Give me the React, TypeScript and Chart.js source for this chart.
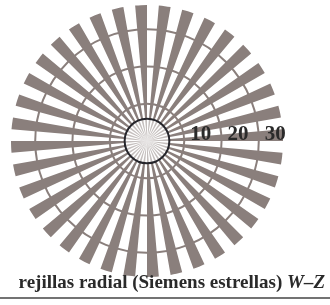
import React, { useEffect, useRef } from "react";
import { Chart, registerables } from "chart.js";

Chart.register(...registerables);

// 36 spokes of the Siemens star (every 10 degrees)
const spokeLabels = [
  "0°", "10°", "20°", "30°", "40°", "50°", "60°", "70°", "80°",
  "90°", "100°", "110°", "120°", "130°", "140°", "150°", "160°", "170°",
  "180°", "190°", "200°", "210°", "220°", "230°", "240°", "250°", "260°",
  "270°", "280°", "290°", "300°", "310°", "320°", "330°", "340°", "350°",
];
const spokeValues = [
  36.5, 36.5, 36.5, 36.5, 36.5, 36.5, 36.5, 36.5, 36.5,
  36.5, 36.5, 36.5, 36.5, 36.5, 36.5, 36.5, 36.5, 36.5,
  36.5, 36.5, 36.5, 36.5, 36.5, 36.5, 36.5, 36.5, 36.5,
  36.5, 36.5, 36.5, 36.5, 36.5, 36.5, 36.5, 36.5, 36.5,
];
const gapValue = 0;
const tickValues = [0, 10, 20, 30];
const tickLabels = ["", "10", "20", "30"];
const scaleMax = 36.5;
const hubValue = 6;
const titleMain = "rejillas radial (Siemens estrellas) ";
const titleItalic = "W–Z";

const SPOKE_COLOR = "#8a7f7c";

export default function App() {
  const ref = useRef<HTMLCanvasElement | null>(null);

  useEffect(() => {
    if (!ref.current) return;
    const labels: string[] = [];
    const data: number[] = [];
    const colors: string[] = [];
    spokeLabels.forEach((l, i) => {
      labels.push(l);
      data.push(spokeValues[i]);
      colors.push(SPOKE_COLOR);
      labels.push(l + " gap");
      data.push(gapValue);
      colors.push("rgba(0,0,0,0)");
    });

    const overlay = {
      id: "overlay",
      afterDatasetsDraw(chart: any) {
        const ctx = chart.ctx;
        const r = chart.scales.r;
        const cx = r.xCenter;
        const cy = r.yCenter;
        // hub circle
        const hr = r.getDistanceFromCenterForValue(hubValue);
        ctx.save();
        ctx.beginPath();
        ctx.arc(cx, cy, hr, 0, Math.PI * 2);
        ctx.fillStyle = "rgba(255,255,255,0.5)";
        ctx.fill();
        ctx.lineWidth = 2;
        ctx.strokeStyle = "#25252b";
        ctx.stroke();
        // tick labels along the right horizontal
        ctx.font = "bold 21px 'Liberation Serif'";
        ctx.fillStyle = "#2a2a2a";
        ctx.textAlign = "left";
        ctx.textBaseline = "middle";
        tickValues.forEach((v, i) => {
          if (!tickLabels[i]) return;
          const d = r.getDistanceFromCenterForValue(v);
          ctx.fillText(tickLabels[i], cx + d + 6, cy - 6);
        });
        ctx.restore();
      },
      afterDraw(chart: any) {
        const ctx = chart.ctx;
        ctx.save();
        const right = 325;
        const base = 288;
        ctx.textBaseline = "alphabetic";
        ctx.fillStyle = "#2a2a2a";
        ctx.font = "italic bold 19px 'Liberation Serif'";
        const wItal = ctx.measureText(titleItalic).width;
        ctx.textAlign = "left";
        ctx.fillText(titleItalic, right - wItal, base);
        ctx.font = "bold 19px 'Liberation Serif'";
        ctx.textAlign = "right";
        ctx.fillText(titleMain, right - wItal, base);
        ctx.beginPath();
        ctx.moveTo(0, 298);
        ctx.lineTo(330, 298);
        ctx.lineWidth = 1.5;
        ctx.strokeStyle = "#444";
        ctx.stroke();
        ctx.restore();
      },
    };

    const chart = new Chart(ref.current, {
      type: "polarArea",
      data: {
        labels,
        datasets: [
          {
            data,
            backgroundColor: colors,
            borderWidth: 0,
          },
        ],
      },
      options: {
        responsive: false,
        animation: false,
        layout: { padding: { left: 11, right: 47, top: 5, bottom: 27 } },
        plugins: {
          legend: { display: false },
          tooltip: { enabled: false },
          title: { display: false },
        },
        scales: {
          r: {
            min: 0,
            max: scaleMax,
            startAngle: 5,
            angleLines: { display: false },
            pointLabels: { display: false },
            grid: { display: true, color: SPOKE_COLOR, lineWidth: 2, circular: true },
            ticks: { display: false },
            afterBuildTicks: (s: any) => {
              s.ticks = tickValues.map((v) => ({ value: v }));
            },
          },
        },
      } as any,
      plugins: [overlay],
    });
    return () => chart.destroy();
  }, []);

  return (
    <canvas
      ref={ref}
      width={330}
      height={305}
      style={{ position: "absolute", left: 0, top: 0, display: "block" }}
    />
  );
}
